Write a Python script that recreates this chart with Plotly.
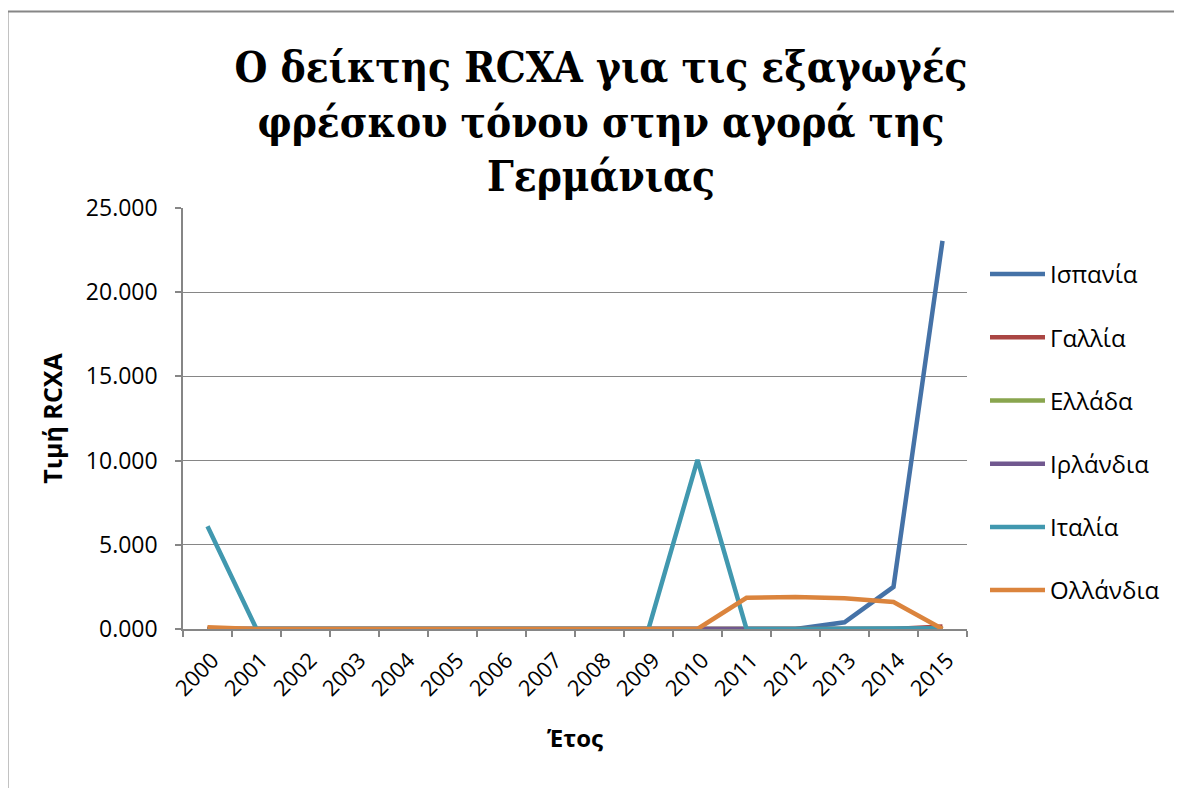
import plotly.graph_objects as go

years = [str(y) for y in range(2000, 2016)]
spain = [0, 0, 0, 0, 0, 0, 0, 0, 0, 0, 0, 0, 0, 0.4, 2.5, 23.05]
france = [0, 0, 0, 0, 0, 0, 0, 0, 0, 0, 0, 0, 0, 0, 0, 0.15]
greece = [0, 0, 0, 0, 0, 0, 0, 0, 0, 0, 0, 0, 0, 0, 0, 0]
ireland = [0, 0, 0, 0, 0, 0, 0, 0, 0, 0, 0, 0, 0, 0, 0, 0]
italy = [6.1, 0, 0, 0, 0, 0, 0, 0, 0, 0, 10.05, 0, 0, 0, 0, 0.05]
netherlands = [0.1, 0, 0, 0, 0, 0, 0, 0, 0, 0, 0, 1.85, 1.9, 1.82, 1.6, 0]

series = [
    ("Ισπανία", spain, "#4572A7"),
    ("Γαλλία", france, "#AA4643"),
    ("Ελλάδα", greece, "#89A54E"),
    ("Ιρλάνδια", ireland, "#71588F"),
    ("Ιταλία", italy, "#4198AF"),
    ("Ολλάνδια", netherlands, "#DB843D"),
]

W, H = 1182, 788
OFF = 8  # page body margin offset
L, R, T, B = 183 - OFF, 967 - OFF, 208 - OFF, 629 - OFF

fig = go.Figure()
for name, vals, color in series:
    fig.add_trace(go.Scatter(
        x=years, y=vals, name=name, mode="lines",
        line=dict(color=color, width=4.5),
        legendgroup=name,
    ))

sans = "Open Sans, Noto Sans, DejaVu Sans, sans-serif"

def px_x(px):
    return (px - OFF - L) / (R - L)

def px_y(py):
    return (B - (py - OFF)) / (B - T)

fig.update_layout(
    width=W, height=H,
    margin=dict(l=L, r=W - R, t=T, b=H - B, autoexpand=False),
    paper_bgcolor="white", plot_bgcolor="white",
    font=dict(family=sans, color="black"),
    title=dict(
        text="Ο δείκτης RCXA για τις εξαγωγές<br>φρέσκου τόνου στην αγορά της<br>Γερμάνιας",
        font=dict(family="DejaVu Serif Condensed, Liberation Serif, serif", size=42, color="black", weight="bold"),
        x=(601 - OFF) / W, xanchor="center", xref="container",
        y=1 - 74 / H, yanchor="top", yref="container",
    ),
    showlegend=True,
    legend=dict(
        x=px_x(985), xanchor="left", y=px_y(252), yanchor="top",
        font=dict(size=24, family=sans, color="black"),
        tracegroupgap=29, bgcolor="rgba(0,0,0,0)",
        traceorder="grouped", itemwidth=55,
    ),
    xaxis=dict(
        type="category", range=[-0.5, 15.5],
        showgrid=False, showline=True, linecolor="#868686", linewidth=1.5,
        ticks="outside", tickson="boundaries", ticklen=6, tickcolor="#868686", tickwidth=1.5,
        tickangle=-45, tickfont=dict(size=22, family=sans),
        ticklabelstandoff=8, ticklabelshift=5,
        title=dict(text="<b>Έτος</b>", font=dict(size=24, family=sans), standoff=29),
        zeroline=False,
    ),
    yaxis=dict(
        range=[0, 25], tickvals=[0, 5, 10, 15, 20, 25], tickformat=".3f",
        showgrid=True, gridcolor="#868686", gridwidth=1.2,
        showline=True, linecolor="#868686", linewidth=1.5,
        ticks="outside", ticklen=6, tickcolor="#868686", tickwidth=1.5,
        tickfont=dict(size=23, family=sans), ticklabelstandoff=13,
        title=dict(text="<b>Τιμή RCXA</b>", font=dict(size=25, family=sans), standoff=16),
        zeroline=False,
    ),
)

# outer chart-area border (top and left edges visible)
bx = px_x(7.5)
by = px_y(11.5)
fig.add_shape(type="line", xref="paper", yref="paper", x0=bx, x1=bx, y0=by, y1=px_y(820),
              line=dict(color="#868686", width=2))
fig.add_shape(type="line", xref="paper", yref="paper", x0=bx, x1=px_x(1220), y0=by, y1=by,
              line=dict(color="#868686", width=2))

fig.write_html("out.html")
